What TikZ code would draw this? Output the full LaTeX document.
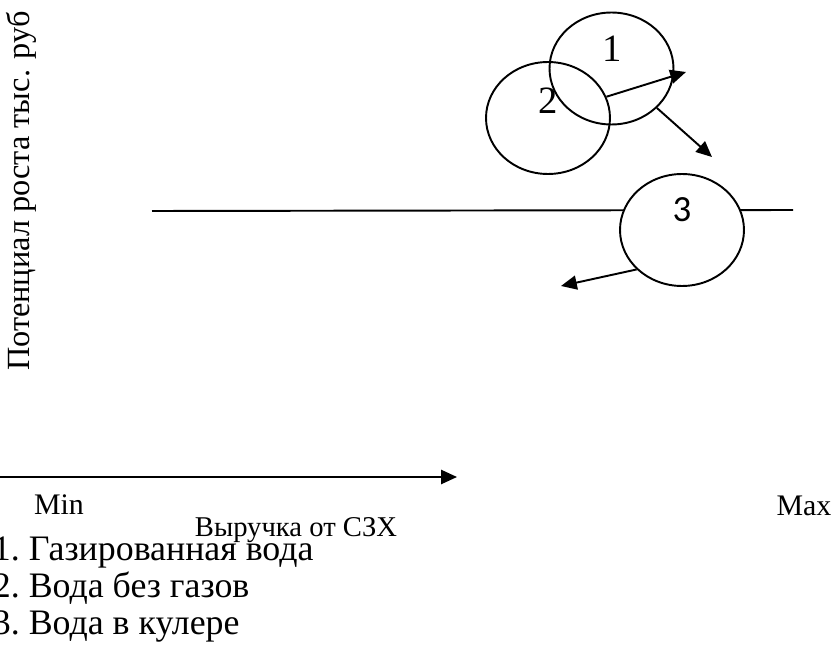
\documentclass[tikz,border=0pt]{standalone}
\usepackage{fontspec}
\setmainfont{Liberation Serif}
\newfontfamily\calibri{Carlito}
\usetikzlibrary{arrows.meta, shapes.geometric}

\begin{document}
\begin{tikzpicture}[x=0.02cm, y=-0.02cm, line width=1.1pt,
    bubble/.style={ellipse, draw, line width=1.1pt, minimum width=2.48cm, minimum height=2.24cm, inner sep=0pt},
    tip/.style={-{Triangle[length=9pt, width=8pt]}}]
    \useasboundingbox (0,0) rectangle (836,652);

    % Vertical axis caption
    \node[rotate=90, font=\fontsize{18.4}{22}\selectfont] (ylab) at (21,191) {Потенциал роста тыс. руб};

    % Threshold line and horizontal axis
    \coordinate (lineL) at (152,211);
    \coordinate (lineR) at (793,210);
    \draw (lineL) -- (lineR);
    \coordinate (axL) at (-5,477);
    \coordinate (axR) at (457,477);
    \draw[tip] (axL) -- (axR);

    % Product bubbles
    \node[bubble] (c2) at (548,118) {};
    \node[bubble] (c1) at (611.5,68.5) {};
    \node[bubble, fill=white] (c3) at (682,230) {};
    \node[font=\fontsize{22}{26}\selectfont] (n1) at (612,49) {1};
    \node[font=\fontsize{22}{26}\selectfont] (n2) at (548,101) {2};
    \node[font=\calibri\fontsize{21}{25}\selectfont] (n3) at (682,210) {3};

    % Movement arrows
    \coordinate (tip1) at (686,72);
    \coordinate (tip2) at (712,157);
    \coordinate (tip3) at (561,286);
    \draw[tip] (c2.20) -- (tip1);
    \draw[tip] (c1.-41) -- (tip2);
    \draw[tip] (c3.221) -- (tip3);

    % Axis marks
    \node[anchor=base, font=\fontsize{17}{20}\selectfont] (min) at (59,514) {Min};
    \node[anchor=base, font=\fontsize{17}{20}\selectfont] (max) at (804,515) {Max};
    \node[anchor=base east, inner sep=0pt, font=\fontsize{16.3}{19}\selectfont] (xlab) at (398,536) {Выручка от СЗХ};

    % Legend
    \foreach \num/\txt/\y in {1/Газированная вода/560, 2/Вода без газов/597, 3/Вода в кулере/634} {
        \node[anchor=base west, inner sep=0pt, font=\fontsize{20.4}{24}\selectfont] (item\num) at (-8,\y) {\makebox[1em][l]{\num.}\txt};
    }
\end{tikzpicture}
\end{document}
